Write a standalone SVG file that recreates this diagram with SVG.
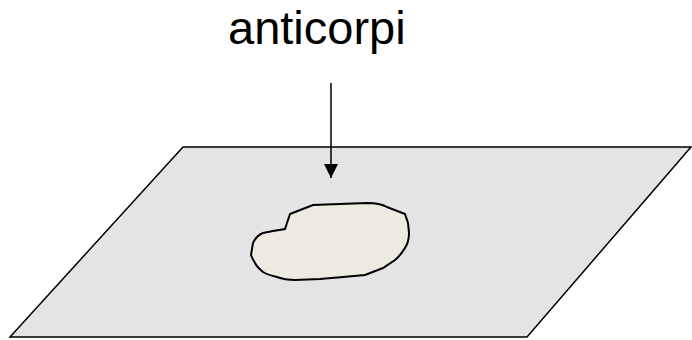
<svg xmlns="http://www.w3.org/2000/svg" width="692" height="340" viewBox="0 0 692 340">
<style>
.line{stroke:#000;stroke-width:1.5;fill:none}
.lbl{font-family:"Liberation Sans",Arial,sans-serif;font-size:47px;fill:#000}
</style>
<defs>
<marker id="ah" viewBox="0 0 10 10" refX="10" refY="5" markerWidth="14" markerHeight="15" markerUnits="userSpaceOnUse" orient="auto">
<path d="M0,0 L10,5 L0,10 Z" fill="#000"/>
</marker>
</defs>
<rect width="692" height="340" fill="#fff"/>
<g id="plate">
<polygon points="183,147 691,147 527,337 10,337" fill="#e4e4e4" stroke="#000" stroke-width="1.5"/>
</g>
<g id="spot">
<path d="M290,214 L313,205 L367,203 Q380,203 387,207 L405,214 L408,223 L409,233 Q409,242 405,248 Q400,256 395,260 L383,268 L365,275 L343,277 L320,279 L295,280 Q285,280 277,277 Q268,275 263,272 Q257,267 255,263 Q252,258 251,255 L253,243 Q255,239 257,237 Q260,234 263,233 L273,231 L285,229 L287,223 Z" fill="#edebe1" stroke="#000" stroke-width="2"/>
</g>
<g id="label">
<text class="lbl" x="228" y="44">anticorpi</text>
</g>
<g id="connectors">
<line class="line" x1="331" y1="83" x2="331" y2="178" marker-end="url(#ah)"/>
</g>
</svg>
